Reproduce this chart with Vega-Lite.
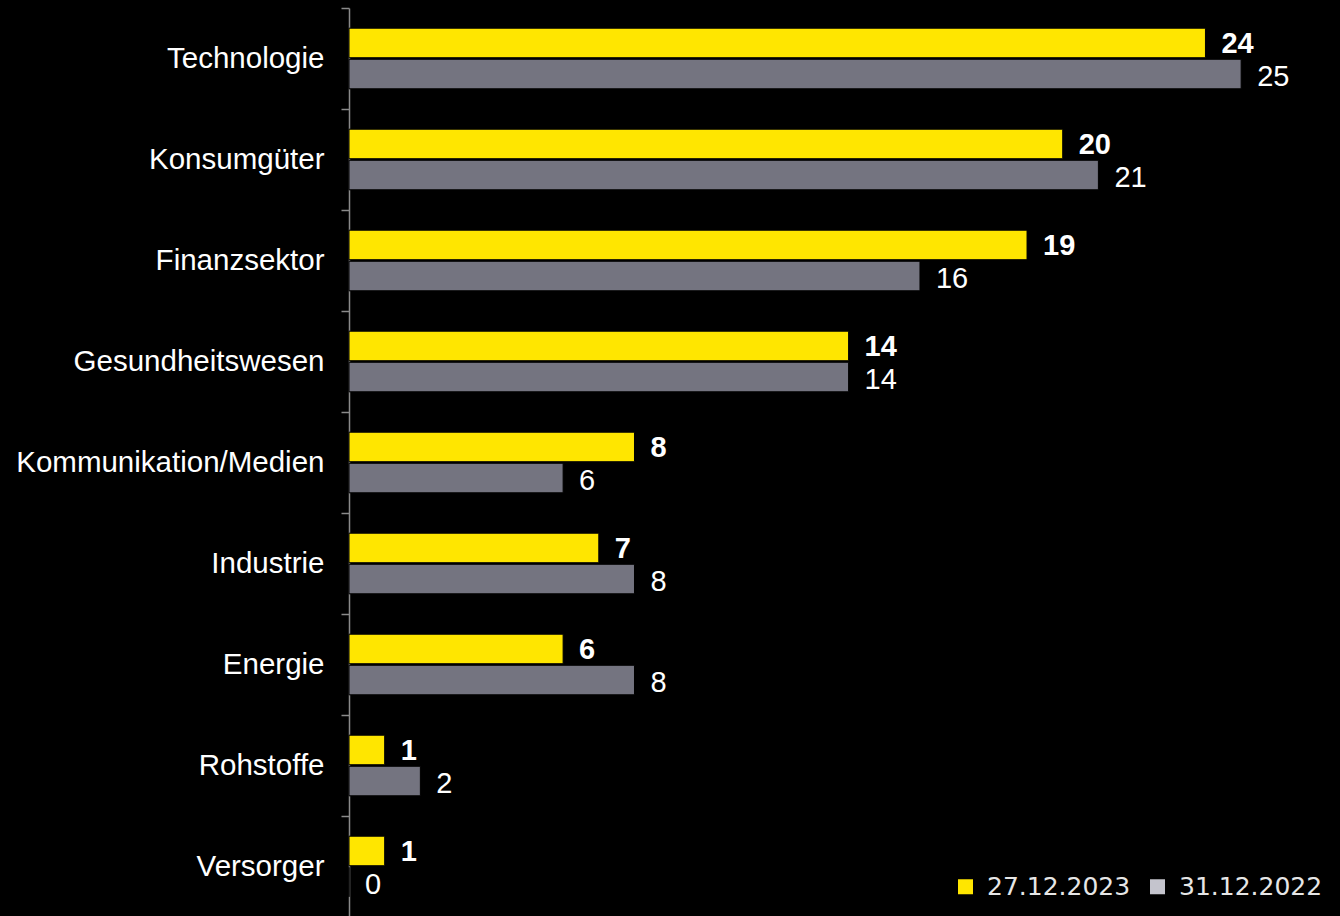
{
  "$schema": "https://vega.github.io/schema/vega-lite/v6.json",
  "autosize": "none",
  "width": 991,
  "height": 909,
  "padding": {"left": 349, "top": 8, "right": 0, "bottom": 0},
  "background": "#000000",
  "config": {"view": {"stroke": null}},
  "data": {"values": [
    {"sektor": "Technologie", "datum": "27.12.2023", "wert": 24},
    {"sektor": "Technologie", "datum": "31.12.2022", "wert": 25},
    {"sektor": "Konsumgüter", "datum": "27.12.2023", "wert": 20},
    {"sektor": "Konsumgüter", "datum": "31.12.2022", "wert": 21},
    {"sektor": "Finanzsektor", "datum": "27.12.2023", "wert": 19},
    {"sektor": "Finanzsektor", "datum": "31.12.2022", "wert": 16},
    {"sektor": "Gesundheitswesen", "datum": "27.12.2023", "wert": 14},
    {"sektor": "Gesundheitswesen", "datum": "31.12.2022", "wert": 14},
    {"sektor": "Kommunikation/Medien", "datum": "27.12.2023", "wert": 8},
    {"sektor": "Kommunikation/Medien", "datum": "31.12.2022", "wert": 6},
    {"sektor": "Industrie", "datum": "27.12.2023", "wert": 7},
    {"sektor": "Industrie", "datum": "31.12.2022", "wert": 8},
    {"sektor": "Energie", "datum": "27.12.2023", "wert": 6},
    {"sektor": "Energie", "datum": "31.12.2022", "wert": 8},
    {"sektor": "Rohstoffe", "datum": "27.12.2023", "wert": 1},
    {"sektor": "Rohstoffe", "datum": "31.12.2022", "wert": 2},
    {"sektor": "Versorger", "datum": "27.12.2023", "wert": 1},
    {"sektor": "Versorger", "datum": "31.12.2022", "wert": 0}
  ]},
  "encoding": {
    "y": {
      "field": "sektor", "type": "nominal",
      "sort": ["Technologie", "Konsumgüter", "Finanzsektor", "Gesundheitswesen", "Kommunikation/Medien", "Industrie", "Energie", "Rohstoffe", "Versorger"],
      "scale": {"paddingInner": 0, "paddingOuter": 0},
      "axis": {
        "title": null,
        "tickBand": "extent",
        "domainColor": "#8a8a8a",
        "domainWidth": 1.5,
        "tickColor": "#8a8a8a",
        "tickWidth": 1.5,
        "tickSize": 8,
        "labelPadding": 17,
        "labelFont": "Liberation Sans",
        "labelFontSize": 29.5,
        "labelColor": "#ffffff",
        "labelLimit": 400
      }
    },
    "yOffset": {
      "field": "datum", "type": "nominal",
      "sort": ["27.12.2023", "31.12.2022"],
      "scale": {"paddingInner": 0.05, "paddingOuter": 0.65}
    },
    "x": {
      "field": "wert", "type": "quantitative",
      "scale": {"domain": [0, 27.77], "nice": false},
      "axis": null
    }
  },
  "resolve": {"scale": {"color": "independent"}},
  "layer": [
    {
      "mark": {"type": "bar", "stroke": "#000000", "strokeWidth": 1},
      "encoding": {
        "color": {
          "field": "datum", "type": "nominal",
          "scale": {"domain": ["27.12.2023", "31.12.2022"], "range": ["#FFE600", "#747480"]},
          "legend": null
        }
      }
    },
    {
      "mark": {"type": "bar", "opacity": 0},
      "encoding": {
        "color": {
          "field": "datum", "type": "nominal",
          "scale": {"domain": ["27.12.2023", "31.12.2022"], "range": ["#FFE600", "#C4C4CD"]},
          "legend": {
            "title": null,
            "orient": "none",
            "legendX": 604,
            "legendY": 866,
            "direction": "horizontal",
            "symbolType": "square",
            "symbolSize": 225,
            "symbolOpacity": 1,
            "symbolStrokeWidth": 0,
            "labelFont": "DejaVu Sans",
            "labelFontSize": 25,
            "labelColor": "#e6e6e6",
            "labelOffset": 9,
            "columnPadding": 14
          }
        }
      }
    },
    {
      "transform": [{"filter": "datum.datum === '27.12.2023'"}],
      "mark": {"type": "text", "align": "left", "baseline": "middle", "dx": 16, "dy": 1, "font": "Liberation Sans", "fontSize": 29, "fontWeight": "bold", "color": "#ffffff"},
      "encoding": {"text": {"field": "wert", "type": "quantitative"}}
    },
    {
      "transform": [{"filter": "datum.datum === '31.12.2022'"}],
      "mark": {"type": "text", "align": "left", "baseline": "middle", "dx": 16, "dy": 3, "font": "Liberation Sans", "fontSize": 29, "color": "#ffffff"},
      "encoding": {"text": {"field": "wert", "type": "quantitative"}}
    }
  ]
}
